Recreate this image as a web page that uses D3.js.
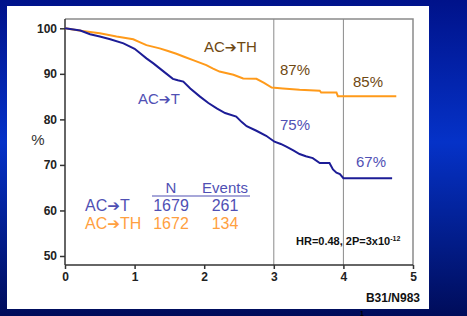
<!DOCTYPE html>
<html>
<head>
<meta charset="utf-8">
<script src="https://cdn.jsdelivr.net/npm/d3@7"></script>
<style>
  body { margin: 0; overflow: hidden; }
  svg { display: block; }
</style>
</head>
<body>
<svg id="chart"></svg>
<script>
const W = 467, H = 316;

// survival curves (years, %)
const actTime = [0, 0.22, 0.36, 0.5, 0.65, 0.84, 1.0, 1.08, 1.17, 1.27, 1.36, 1.46, 1.55, 1.62, 1.7, 1.8, 1.94, 2.06, 2.18, 2.3, 2.46, 2.54, 2.61, 2.75, 2.89, 3.01, 3.1, 3.18, 3.28, 3.37, 3.46, 3.56, 3.66, 3.8, 3.85, 3.9, 3.95, 4.0, 4.7];
const actSurv = [100, 99.5, 98.7, 98.2, 97.6, 96.7, 95.5, 94.5, 93.4, 92.3, 91.2, 90.0, 88.9, 88.6, 88.3, 86.8, 85.0, 83.6, 82.4, 81.4, 80.6, 79.4, 78.5, 77.5, 76.4, 75.1, 74.6, 74.0, 73.2, 72.4, 71.9, 71.5, 70.4, 70.4, 69.0, 68.3, 68.0, 67.1, 67.1];
const acthTime = [0, 0.25, 0.5, 0.74, 0.98, 1.08, 1.17, 1.36, 1.48, 1.6, 1.72, 1.84, 2.03, 2.12, 2.22, 2.42, 2.56, 2.75, 2.86, 2.97, 3.13, 3.37, 3.66, 3.68, 3.9, 3.92, 4.76];
const acthSurv = [100, 99.4, 98.9, 98.2, 97.6, 96.9, 96.3, 95.6, 95.0, 94.4, 93.7, 93.0, 91.9, 91.2, 90.5, 89.8, 89.0, 88.9, 88.0, 87.0, 86.8, 86.5, 86.3, 85.9, 85.9, 85.1, 85.1];

const yTicks = [50, 60, 70, 80, 90, 100];
const xTicks = [0, 1, 2, 3, 4, 5];
const refYears = [3, 4];

const tableHead = ["N", "Events"];
const tableArms = [["AC", "T"], ["AC", "TH"]];
const tableN = [1679, 1672];
const tableEvents = [261, 134];

const blue = "#1c1c96", orange = "#ff9a1a";
const blueText = "#5050b4", orangeText = "#ffa040", brownText = "#6e4812";

const svg = d3.select("#chart").attr("width", W).attr("height", H);

// blue slide background
const defs = svg.append("defs");
const bg = defs.append("linearGradient").attr("id", "bg")
  .attr("x1", 0).attr("y1", 0).attr("x2", 0).attr("y2", 1);
bg.append("stop").attr("offset", "0%").attr("stop-color", "#00128a");
bg.append("stop").attr("offset", "45%").attr("stop-color", "#0532c8");
bg.append("stop").attr("offset", "100%").attr("stop-color", "#000c5a");
svg.append("rect").attr("width", W).attr("height", H).attr("fill", "url(#bg)");

// white panel
svg.append("rect").attr("x", 7).attr("y", 6).attr("width", 422).attr("height", 303).attr("fill", "#fff");

const x = d3.scaleLinear().domain([0, 5]).range([65, 413]);
const y = d3.scaleLinear().domain([50, 100]).range([256, 28.3]);
const yBottom = 265, yTop = 19;

const g = svg.append("g").style("font-family", "Arial, 'Liberation Sans', sans-serif");

// frame top/right and reference lines
g.append("path")
  .attr("d", `M${x(0)},${yTop}H${x(5)}V${yBottom}`)
  .attr("fill", "none").attr("stroke", "#8a8a8a").attr("stroke-width", 1.5);
g.selectAll(".ref").data(refYears).enter().append("line")
  .attr("x1", d => x(d)).attr("x2", d => x(d))
  .attr("y1", yTop).attr("y2", yBottom)
  .attr("stroke", "#8a8a8a").attr("stroke-width", 1);

// axes
const yAxis = d3.axisLeft(y).tickValues(yTicks).tickSize(5).tickPadding(3);
const xAxis = d3.axisBottom(x).tickValues(xTicks).tickFormat(d3.format("d")).tickSize(4).tickPadding(3);

const ya = g.append("g").attr("transform", `translate(${x(0)},0)`).call(yAxis);
ya.select(".domain").attr("d", `M0,${yTop}V${yBottom}`);
const xa = g.append("g").attr("transform", `translate(0,${yBottom})`).call(xAxis);
xa.select(".domain").attr("d", `M${x(0)},0H${x(5)}`);

[ya, xa].forEach(a => {
  a.selectAll(".domain, .tick line").attr("stroke", "#333").attr("stroke-width", 1.5);
  a.selectAll("text").attr("font-size", 12).attr("font-weight", "bold")
    .attr("fill", "#222").attr("font-family", "Arial, 'Liberation Sans', sans-serif");
});

g.append("text").attr("x", 38).attr("y", 145).attr("text-anchor", "middle")
  .attr("font-size", 15).attr("fill", "#333").text("%");

// curves
const line = d3.line().x(d => x(d[0])).y(d => y(d[1]));
g.append("path").datum(d3.zip(acthTime, acthSurv))
  .attr("d", line).attr("fill", "none").attr("stroke", orange).attr("stroke-width", 2);
g.append("path").datum(d3.zip(actTime, actSurv))
  .attr("d", line).attr("fill", "none").attr("stroke", blue).attr("stroke-width", 2);

// text with a heavy arrow between the two parts
function armLabel(parts, px, py, color, size) {
  const t = g.append("text").attr("x", px).attr("y", py).attr("font-size", size).attr("fill", color);
  t.append("tspan").text(parts[0]);
  t.append("tspan").attr("font-family", "'DejaVu Sans', sans-serif").attr("font-weight", "bold")
    .attr("font-size", size * 0.95).text("\u2794");
  t.append("tspan").text(parts[1]);
}
function label(txt, px, py, color, size) {
  g.append("text").attr("x", px).attr("y", py).attr("font-size", size || 15)
    .attr("fill", color).text(txt);
}
armLabel(["AC", "TH"], 204, 52, brownText, 15);
label("87%", 280, 75, brownText);
label("85%", 353, 87, brownText);
armLabel(["AC", "T"], 138, 104, blueText, 15);
label("75%", 280, 130, blueText);
label("67%", 356, 167, blueText);

// N / Events table
const colX = [171, 225];
g.selectAll(".th").data(tableHead).enter().append("text")
  .attr("x", (d, i) => colX[i]).attr("y", 193).attr("text-anchor", "middle")
  .attr("font-size", 15).attr("fill", blueText).text(d => d);
g.append("line").attr("x1", 152).attr("x2", 250).attr("y1", 196).attr("y2", 196)
  .attr("stroke", blueText).attr("stroke-width", 1.2);
const rowColors = [blueText, orangeText];
tableArms.forEach((arm, i) => {
  const ry = 211 + i * 18;
  armLabel(arm, 85, ry, rowColors[i], 16);
  g.append("text").attr("x", colX[0]).attr("y", ry).attr("text-anchor", "middle")
    .attr("font-size", 16).attr("fill", rowColors[i]).text(tableN[i]);
  g.append("text").attr("x", colX[1]).attr("y", ry).attr("text-anchor", "middle")
    .attr("font-size", 16).attr("fill", rowColors[i]).text(tableEvents[i]);
});

// stats + footer
const hr = g.append("text").attr("x", 296).attr("y", 245).attr("font-size", 11)
  .attr("font-weight", "bold").attr("fill", "#111");
hr.append("tspan").text("HR=0.48, 2P=3x10");
hr.append("tspan").attr("dy", -4).attr("font-size", 7).text("-12");

g.append("text").attr("x", 420).attr("y", 302).attr("text-anchor", "end")
  .attr("font-size", 12).attr("font-weight", "bold").attr("fill", "#111").text("B31/N983");
g.append("text").attr("x", 362).attr("y", 316).attr("text-anchor", "middle")
  .attr("font-size", 7).attr("font-weight", "bold").attr("fill", "#000").text("1");
</script>
</body>
</html>
